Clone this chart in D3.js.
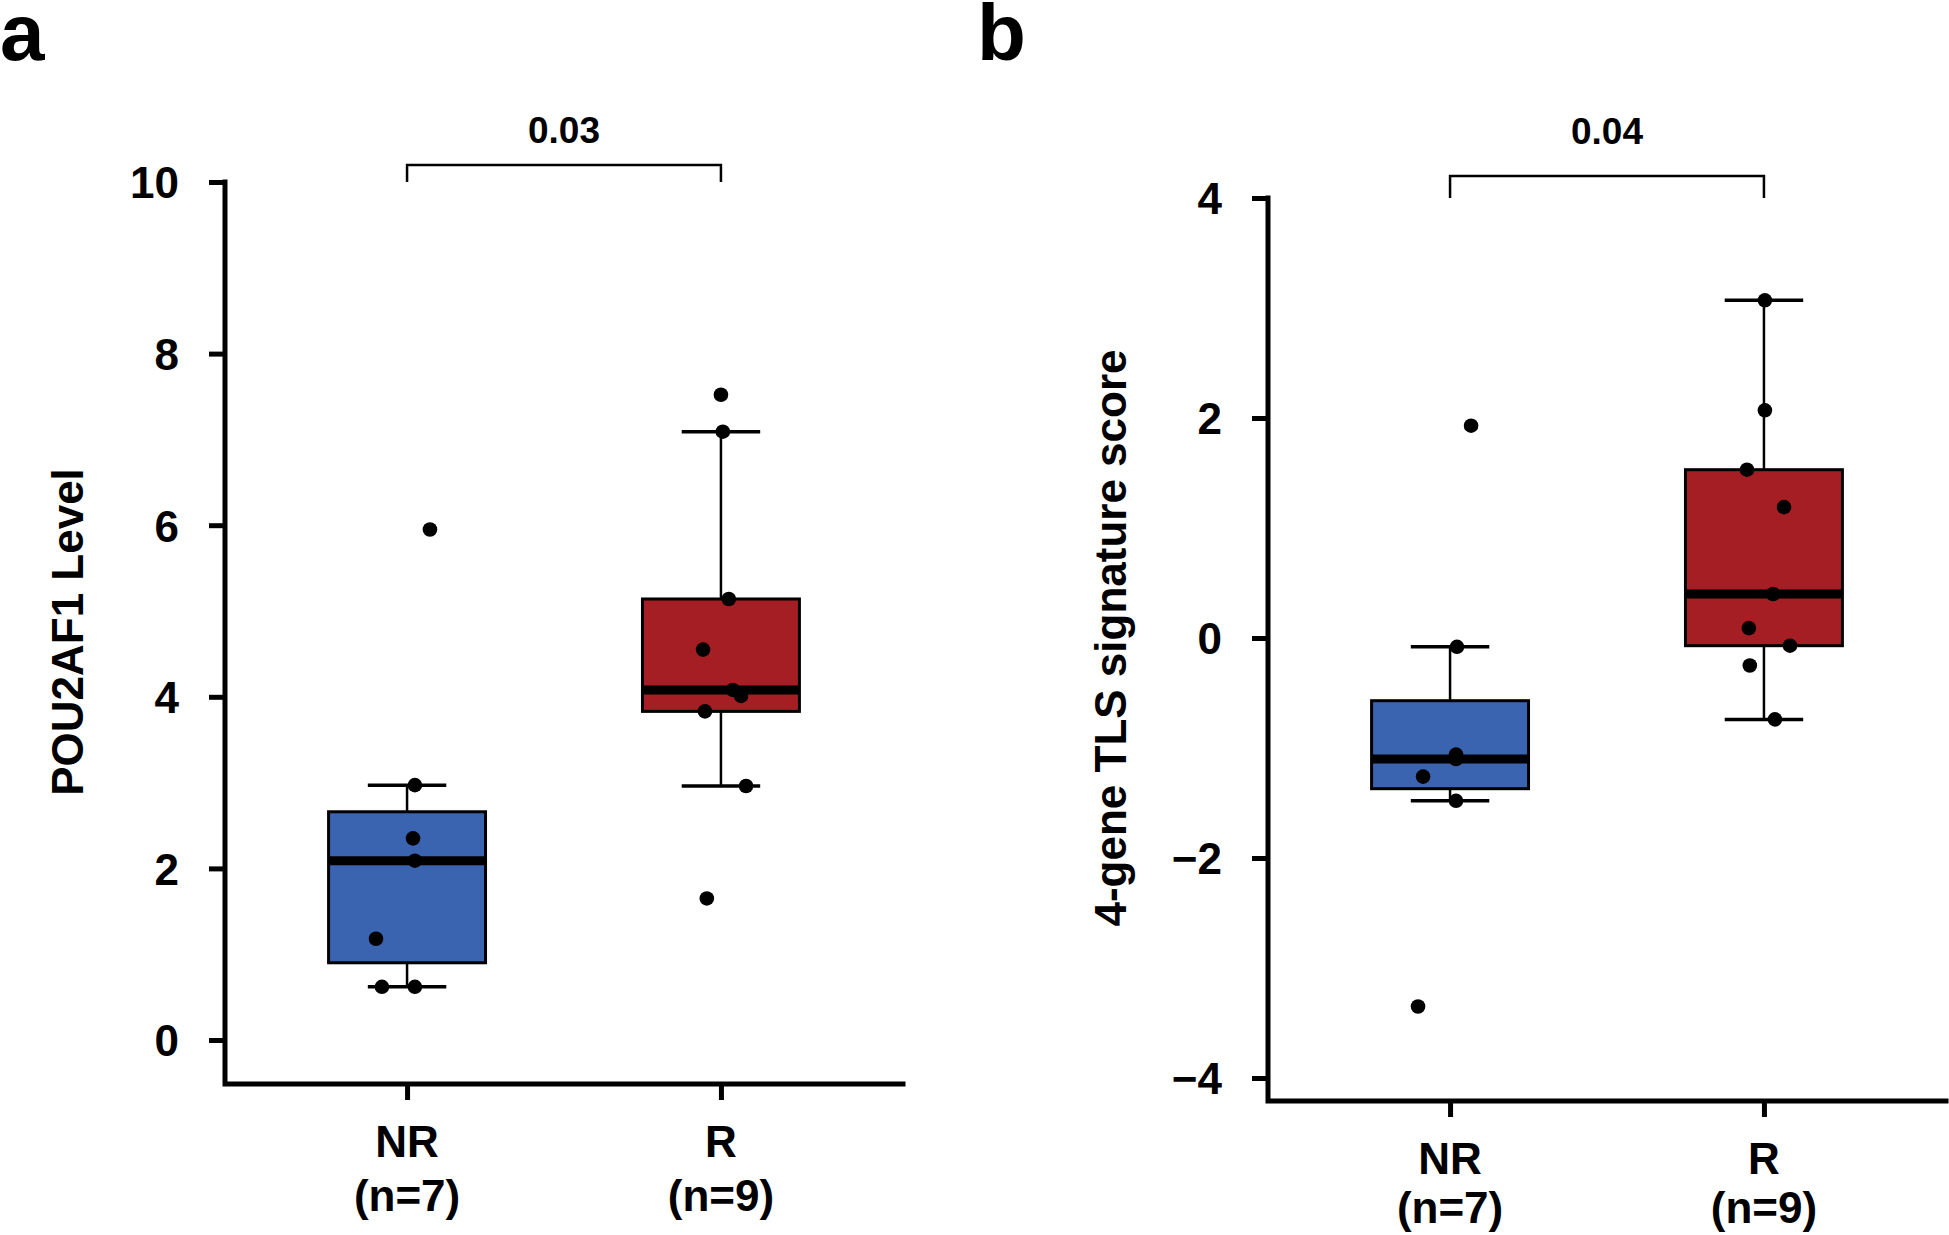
<!DOCTYPE html>
<html><head><meta charset="utf-8">
<script src="https://cdn.jsdelivr.net/npm/d3@7"></script>
<style>
body{margin:0;background:#fff}
svg text{font-family:"Liberation Sans",Arial,Helvetica,sans-serif;font-weight:bold;fill:#000}
</style>
</head><body>
<svg id="chart" width="1949" height="1235"></svg>
<script>
// ---- data ----
const groups = ["NR", "R"];
const groupCounts = ["(n=7)", "(n=9)"];
const panelLetters = ["a", "b"];
const yTitles = ["POU2AF1 Level", "4-gene TLS signature score"];
const pValues = ["0.03", "0.04"];
const boxColors = ["#3a63b0", "#a51e23"];

const pouTicks = [0, 2, 4, 6, 8, 10];
const pouNR = [5.95, 2.97, 2.35, 2.09, 1.18, 0.62, 0.62];
const pouR  = [7.52, 7.09, 5.14, 4.55, 4.08, 4.01, 3.83, 2.96, 1.65];
// horizontal jitter of each point (in group units)
const pouNRJitter = [0.073, 0.025, 0.019, 0.025, -0.099, -0.080, 0.025];
const pouRJitter  = [0.000, 0.006, 0.025, -0.057, 0.038, 0.064, -0.051, 0.080, -0.045];

const tlsTicks = [-4, -2, 0, 2, 4];
const tlsNR = [1.93, -0.08, -1.06, -1.10, -1.26, -1.48, -3.35];
const tlsR  = [3.07, 2.07, 1.53, 1.19, 0.40, 0.09, -0.07, -0.25, -0.74];
const tlsNRJitter = [0.067, 0.022, 0.019, 0.019, -0.086, 0.019, -0.102];
const tlsRJitter  = [0.003, 0.003, -0.054, 0.064, 0.029, -0.048, 0.083, -0.045, 0.035];

// ---- helpers ----
function fivenum(v) {
  const x = v.slice().sort((a, b) => a - b), n = x.length;
  const n4 = Math.floor((n + 3) / 2) / 2;
  const d = [1, n4, (n + 1) / 2, n + 1 - n4, n];
  return d.map(di => 0.5 * (x[Math.floor(di) - 1] + x[Math.ceil(di) - 1]));
}
function boxStats(v) {
  const f = fivenum(v);
  const iqr = f[3] - f[1];
  const hi = f[3] + 1.5 * iqr, lo = f[1] - 1.5 * iqr;
  const inside = v.filter(d => d >= lo && d <= hi);
  return { q1: f[1], med: f[2], q3: f[3], wlo: d3.min(inside), whi: d3.max(inside) };
}

const svg = d3.select("#chart");
svg.append("rect").attr("width", 1949).attr("height", 1235).attr("fill", "#fff");

const panels = [
  { letter: panelLetters[0], title: yTitles[0], p: pValues[0], ticks: pouTicks,
    series: [pouNR, pouR], jitter: [pouNRJitter, pouRJitter],
    axisX: 225, xRange: [225, 903], yDomain: [0, 10], yRange: [1040, 182], baseY: 1084,
    bracketY: 165, titleX: 83, titleY: 632, letterX: 0, textY: 143, countDy: 127 },
  { letter: panelLetters[1], title: yTitles[1], p: pValues[1], ticks: tlsTicks,
    series: [tlsNR, tlsR], jitter: [tlsNRJitter, tlsRJitter],
    axisX: 1268, xRange: [1268, 1946], yDomain: [-4, 4], yRange: [1078, 198], baseY: 1101,
    bracketY: 176, titleX: 1126, titleY: 638, letterX: 977, textY: 144, countDy: 122 }
];

panels.forEach(P => {
  const g = svg.append("g");
  const x = d3.scaleLinear().domain([0.42, 2.58]).range(P.xRange);
  const y = d3.scaleLinear().domain(P.yDomain).range(P.yRange);
  const topY = y(P.yDomain[1]);

  // y axis ticks and labels
  const yAxis = d3.axisLeft(y).tickValues(P.ticks).tickSize(16).tickSizeOuter(0)
    .tickPadding(30).tickFormat(d3.format("d"));
  const ya = g.append("g").attr("transform", `translate(${P.axisX},0)`).call(yAxis);
  ya.select(".domain").remove();
  ya.selectAll(".tick line").attr("stroke", "#000").attr("stroke-width", 5);
  ya.selectAll(".tick text").attr("font-size", 44).attr("dy", "0.36em")
    .style("font-family", '"Liberation Sans",Arial,sans-serif').style("font-weight", "bold");

  // x axis ticks
  const xAxis = d3.axisBottom(x).tickValues([1, 2]).tickSize(16).tickSizeOuter(0).tickFormat("");
  const xa = g.append("g").attr("transform", `translate(0,${P.baseY})`).call(xAxis);
  xa.select(".domain").remove();
  xa.selectAll(".tick line").attr("stroke", "#000").attr("stroke-width", 5);

  // axis lines (L shape)
  g.append("path")
    .attr("d", `M${P.axisX},${topY}V${P.baseY}H${P.xRange[1]}`)
    .attr("fill", "none").attr("stroke", "#000").attr("stroke-width", 5)
    .attr("stroke-linejoin", "miter").attr("stroke-linecap", "square");

  // category labels
  groups.forEach((name, i) => {
    g.append("text").attr("x", x(i + 1)).attr("y", P.baseY + 73)
      .attr("text-anchor", "middle").attr("font-size", 44).text(name);
    g.append("text").attr("x", x(i + 1)).attr("y", P.baseY + P.countDy)
      .attr("text-anchor", "middle").attr("font-size", 44).text(groupCounts[i]);
  });

  // boxplots
  const halfBox = 0.25, halfCap = 0.125;
  P.series.forEach((vals, i) => {
    const s = boxStats(vals), cx = i + 1;
    const bg = g.append("g");
    // whiskers
    bg.append("line").attr("x1", x(cx)).attr("x2", x(cx)).attr("y1", y(s.whi)).attr("y2", y(s.q3))
      .attr("stroke", "#000").attr("stroke-width", 2.5);
    bg.append("line").attr("x1", x(cx)).attr("x2", x(cx)).attr("y1", y(s.q1)).attr("y2", y(s.wlo))
      .attr("stroke", "#000").attr("stroke-width", 2.5);
    [s.whi, s.wlo].forEach(v => {
      bg.append("line").attr("x1", x(cx - halfCap)).attr("x2", x(cx + halfCap))
        .attr("y1", y(v)).attr("y2", y(v)).attr("stroke", "#000").attr("stroke-width", 3.5);
    });
    // box
    bg.append("rect").attr("x", x(cx - halfBox)).attr("width", x(cx + halfBox) - x(cx - halfBox))
      .attr("y", y(s.q3)).attr("height", y(s.q1) - y(s.q3))
      .attr("fill", boxColors[i]).attr("stroke", "#000").attr("stroke-width", 3);
    // median
    bg.append("line").attr("x1", x(cx - halfBox)).attr("x2", x(cx + halfBox))
      .attr("y1", y(s.med)).attr("y2", y(s.med)).attr("stroke", "#000").attr("stroke-width", 9);
    // points
    bg.selectAll("circle.pt").data(vals).join("circle").attr("class", "pt")
      .attr("cx", (d, k) => x(cx + P.jitter[i][k])).attr("cy", d => y(d))
      .attr("r", 7.3).attr("fill", "#000");
  });

  // significance bracket
  g.append("path")
    .attr("d", `M${x(1)},${topY}V${P.bracketY}H${x(2)}V${topY}`)
    .attr("fill", "none").attr("stroke", "#000").attr("stroke-width", 2.5);
  g.append("text").attr("x", (x(1) + x(2)) / 2).attr("y", P.textY)
    .attr("text-anchor", "middle").attr("font-size", 37).text(P.p);

  // y title
  g.append("text").attr("transform", `translate(${P.titleX},${P.titleY}) rotate(-90)`)
    .attr("text-anchor", "middle").attr("font-size", 44).text(P.title);

  // panel letter
  g.append("text").attr("x", P.letterX).attr("y", 60).attr("font-size", 80).text(P.letter);
});
</script>
</body></html>
